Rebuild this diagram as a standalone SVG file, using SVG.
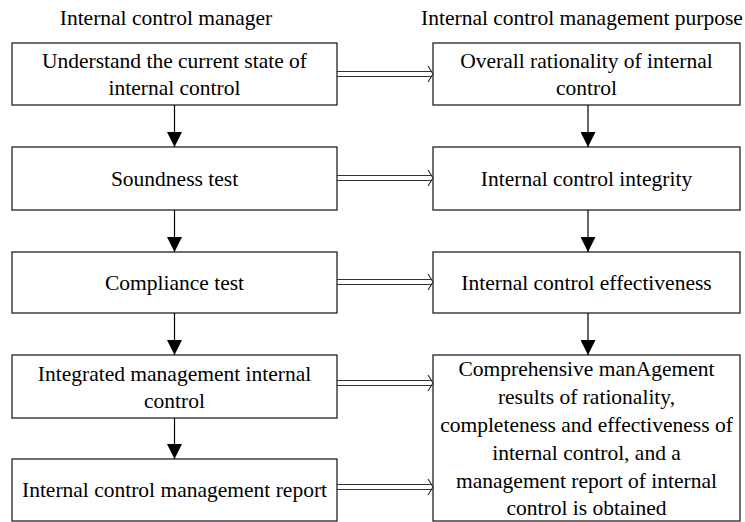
<svg xmlns="http://www.w3.org/2000/svg" width="745" height="522" viewBox="0 0 745 522">
<defs>
<style>
.box{fill:#fff;stroke:#222;stroke-width:1.3}
.t{font-family:'Liberation Serif','DejaVu Serif',serif;font-size:21.5px;fill:#000;text-anchor:middle}
.h{font-family:'Liberation Serif','DejaVu Serif',serif;font-size:21.5px;fill:#000;text-anchor:middle}
.v{stroke:#000;stroke-width:1.2;fill:none}
.d{stroke:#333;stroke-width:1.2;fill:none}
</style>
<marker id="tri" markerWidth="15" markerHeight="15" refX="15" refY="7.5" orient="auto" markerUnits="userSpaceOnUse">
<path d="M0,0 L15,7.5 L0,15 Z" fill="#000"/>
</marker>
</defs>
<rect width="745" height="522" fill="#fff"/>
<text class="h" x="166" y="25">Internal control manager</text>
<text class="h" x="582" y="25">Internal control management purpose</text>

<g id="n1"><rect class="box" x="12" y="43" width="325" height="62"/>
<text class="t" x="174.5" y="68">Understand the current state of</text>
<text class="t" x="174.5" y="95">internal control</text></g>
<g id="n2"><rect class="box" x="12" y="147" width="325" height="63"/>
<text class="t" x="174.5" y="186">Soundness test</text></g>
<g id="n3"><rect class="box" x="12" y="252" width="325" height="61"/>
<text class="t" x="174.5" y="290">Compliance test</text></g>
<g id="n4"><rect class="box" x="12" y="355" width="325" height="63"/>
<text class="t" x="174.5" y="381">Integrated management internal</text>
<text class="t" x="174.5" y="408">control</text></g>
<g id="n5"><rect class="box" x="12" y="459" width="325" height="62"/>
<text class="t" x="174.5" y="497">Internal control management report</text></g>

<g id="m1"><rect class="box" x="433" y="43" width="307" height="62"/>
<text class="t" x="586.5" y="68">Overall rationality of internal</text>
<text class="t" x="586.5" y="95">control</text></g>
<g id="m2"><rect class="box" x="433" y="147" width="307" height="63"/>
<text class="t" x="586.5" y="186">Internal control integrity</text></g>
<g id="m3"><rect class="box" x="433" y="252" width="307" height="61"/>
<text class="t" x="586.5" y="290">Internal control effectiveness</text></g>
<g id="m4"><rect class="box" x="433" y="355" width="307" height="166"/>
<text class="t" x="586.5" y="376">Comprehensive manAgement</text>
<text class="t" x="586.5" y="404">results of rationality,</text>
<text class="t" x="586.5" y="432">completeness and effectiveness of</text>
<text class="t" x="586.5" y="460">internal control, and a</text>
<text class="t" x="586.5" y="488">management report of internal</text>
<text class="t" x="586.5" y="515">control is obtained</text></g>

<g id="connectors">
<line class="v" x1="174.5" y1="105" x2="174.5" y2="147" marker-end="url(#tri)"/>
<line class="v" x1="174.5" y1="210" x2="174.5" y2="252" marker-end="url(#tri)"/>
<line class="v" x1="174.5" y1="313" x2="174.5" y2="355" marker-end="url(#tri)"/>
<line class="v" x1="174.5" y1="418" x2="174.5" y2="459" marker-end="url(#tri)"/>
<line class="v" x1="588" y1="105" x2="588" y2="147" marker-end="url(#tri)"/>
<line class="v" x1="588" y1="210" x2="588" y2="252" marker-end="url(#tri)"/>
<line class="v" x1="588" y1="313" x2="588" y2="355" marker-end="url(#tri)"/>
<g class="d">
<path d="M337,71.5 H431 M337,76.5 H431 M428,66 L433,74 L428,82"/>
<path d="M337,175.5 H431 M337,180.5 H431 M428,170 L433,178 L428,186"/>
<path d="M337,279.5 H431 M337,284.5 H431 M428,274 L433,282 L428,290"/>
<path d="M337,380.5 H431 M337,385.5 H431 M428,375 L433,383 L428,391"/>
<path d="M337,484.5 H431 M337,489.5 H431 M428,479 L433,487 L428,495"/>
</g>
</g>
</svg>
